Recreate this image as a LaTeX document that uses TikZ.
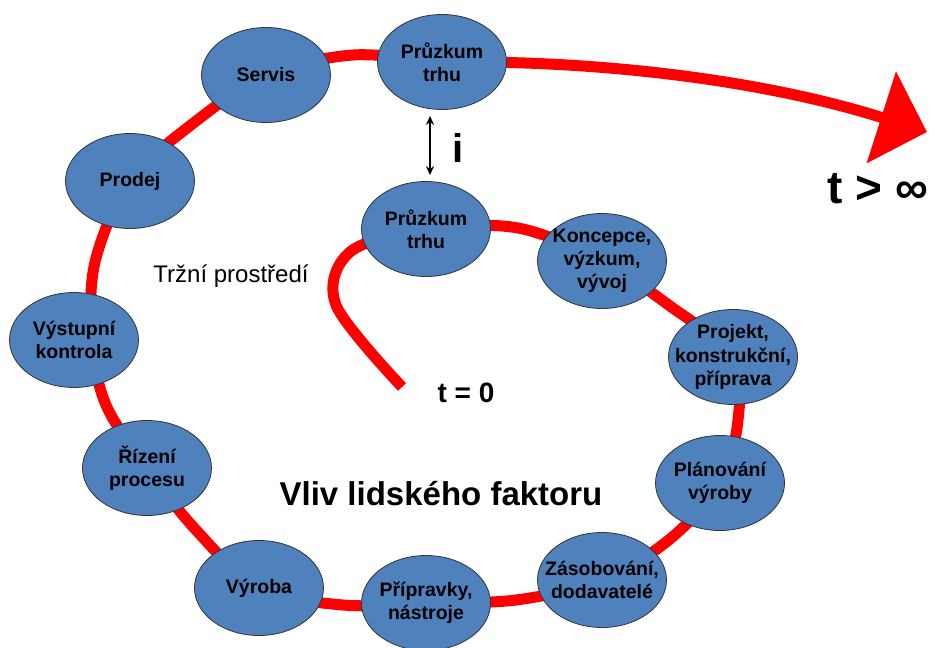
\documentclass[tikz,border=0pt]{standalone}
\usepackage{fontspec}
\setmainfont{Liberation Sans}
\usetikzlibrary{arrows.meta,shapes.geometric}
\definecolor{nodeblue}{HTML}{4F81BD}
\begin{document}
\begin{tikzpicture}[x=1pt,y=-1pt,
  blob/.style={ellipse, fill=nodeblue, draw=black!80, line width=0.8pt,
    minimum width=129pt, minimum height=95pt, inner sep=0pt},
  blobtext/.style={align=center, inner sep=0pt,
    font=\fontsize{19.5}{23.3}\selectfont\bfseries},
  road/.style={draw=red, line width=11pt},
  dblarrow/.style={draw=black, line width=1.8pt, {Stealth[length=9pt,width=8pt]}-{Stealth[length=9pt,width=8pt]}}
]
\useasboundingbox (0,0) rectangle (935,648);

% centres and waypoints of the spiral
\coordinate (s0) at (402,387);
\coordinate (s1) at (336,305);
\coordinate (s2) at (350,252);
\coordinate (cpin) at (426,229);
\coordinate (w1) at (518,228);
\coordinate (ckonc) at (602,261);
\coordinate (w2) at (670,306);
\coordinate (cproj) at (733,357);
\coordinate (w3) at (738,420);
\coordinate (cplan) at (720,483);
\coordinate (w4) at (670,539);
\coordinate (czas) at (602,580);
\coordinate (w5) at (516,600);
\coordinate (cprip) at (426,603);
\coordinate (w6) at (343,605);
\coordinate (cvyr) at (259,588);
\coordinate (w7) at (196,530);
\coordinate (criz) at (147,468);
\coordinate (w8) at (106,405);
\coordinate (cvys) at (74,340);
\coordinate (vysmid) at (92,340);
\coordinate (w9) at (95,262);
\coordinate (cprod) at (130,181);
\coordinate (w10) at (191,125);
\coordinate (cserv) at (266,75);
\coordinate (w11) at (353,55);
\coordinate (cptop) at (442,62);
\coordinate (tipend) at (927,132);

% red spiral
\draw[road, line cap=butt] plot[smooth, tension=0.55] coordinates {
  (s0) (s1) (s2) (cpin) (w1) (ckonc) (w2) (cproj) (w3) (cplan) (w4)
  (czas) (w5) (cprip) (w6) (cvyr) (w7) (criz) (w8) (vysmid) (w9)
  (cprod) (w10) (cserv) (w11) (cptop)};
\draw[road, -{Triangle[length=48pt,width=94pt]}]
  (cptop) .. controls (620,60) and (780,85) .. (tipend);

% nodes
\node[blob, label={[blobtext]center:{Průzkum\\trhu}}] (pin) at (cpin) {};
\node[blob, label={[blobtext]center:{Koncepce,\\výzkum,\\vývoj}}] (konc) at (ckonc) {};
\node[blob, label={[blobtext]center:{Projekt,\\konstrukční,\\příprava}}] (proj) at (cproj) {};
\node[blob, label={[blobtext]center:{Plánování\\výroby}}] (plan) at (cplan) {};
\node[blob, label={[blobtext]center:{Zásobování,\\dodavatelé}}] (zas) at (czas) {};
\node[blob, label={[blobtext]center:{Přípravky,\\nástroje}}] (prip) at (cprip) {};
\node[blob, label={[blobtext]center:{Výroba}}] (vyr) at (cvyr) {};
\node[blob, label={[blobtext]center:{Řízení\\procesu}}] (riz) at (criz) {};
\node[blob, label={[blobtext]center:{Výstupní\\kontrola}}] (vys) at (cvys) {};
\node[blob, label={[blobtext]center:{Prodej}}] (prod) at (cprod) {};
\node[blob, label={[blobtext]center:{Servis}}] (serv) at (cserv) {};
\node[blob, label={[blobtext]center:{Průzkum\\trhu}}] (ptop) at (cptop) {};

% double arrow
\draw[dblarrow, shorten <=6pt, shorten >=6pt] ([xshift=-12pt]ptop.south) -- ([xshift=4pt]pin.north);

% texts
\node[anchor=base, inner sep=0pt, font=\fontsize{40}{40}\selectfont\bfseries] (ilab) at (458,162) {i};
\node[anchor=base, inner sep=0pt, font=\fontsize{46}{46}\selectfont\bfseries] (tinf) at (878,203) {t > ∞};
\node[anchor=base, inner sep=0pt, font=\fontsize{28}{28}\selectfont\bfseries] (tzero) at (466,402) {t = 0};
\node[anchor=base, inner sep=0pt, font=\fontsize{24}{24}\selectfont] (trzni) at (231,282) {Tržní prostředí};
\node[anchor=base, inner sep=0pt, font=\fontsize{33}{33}\selectfont\bfseries] (vliv) at (441,505) {Vliv lidského faktoru};
\end{tikzpicture}
\end{document}
